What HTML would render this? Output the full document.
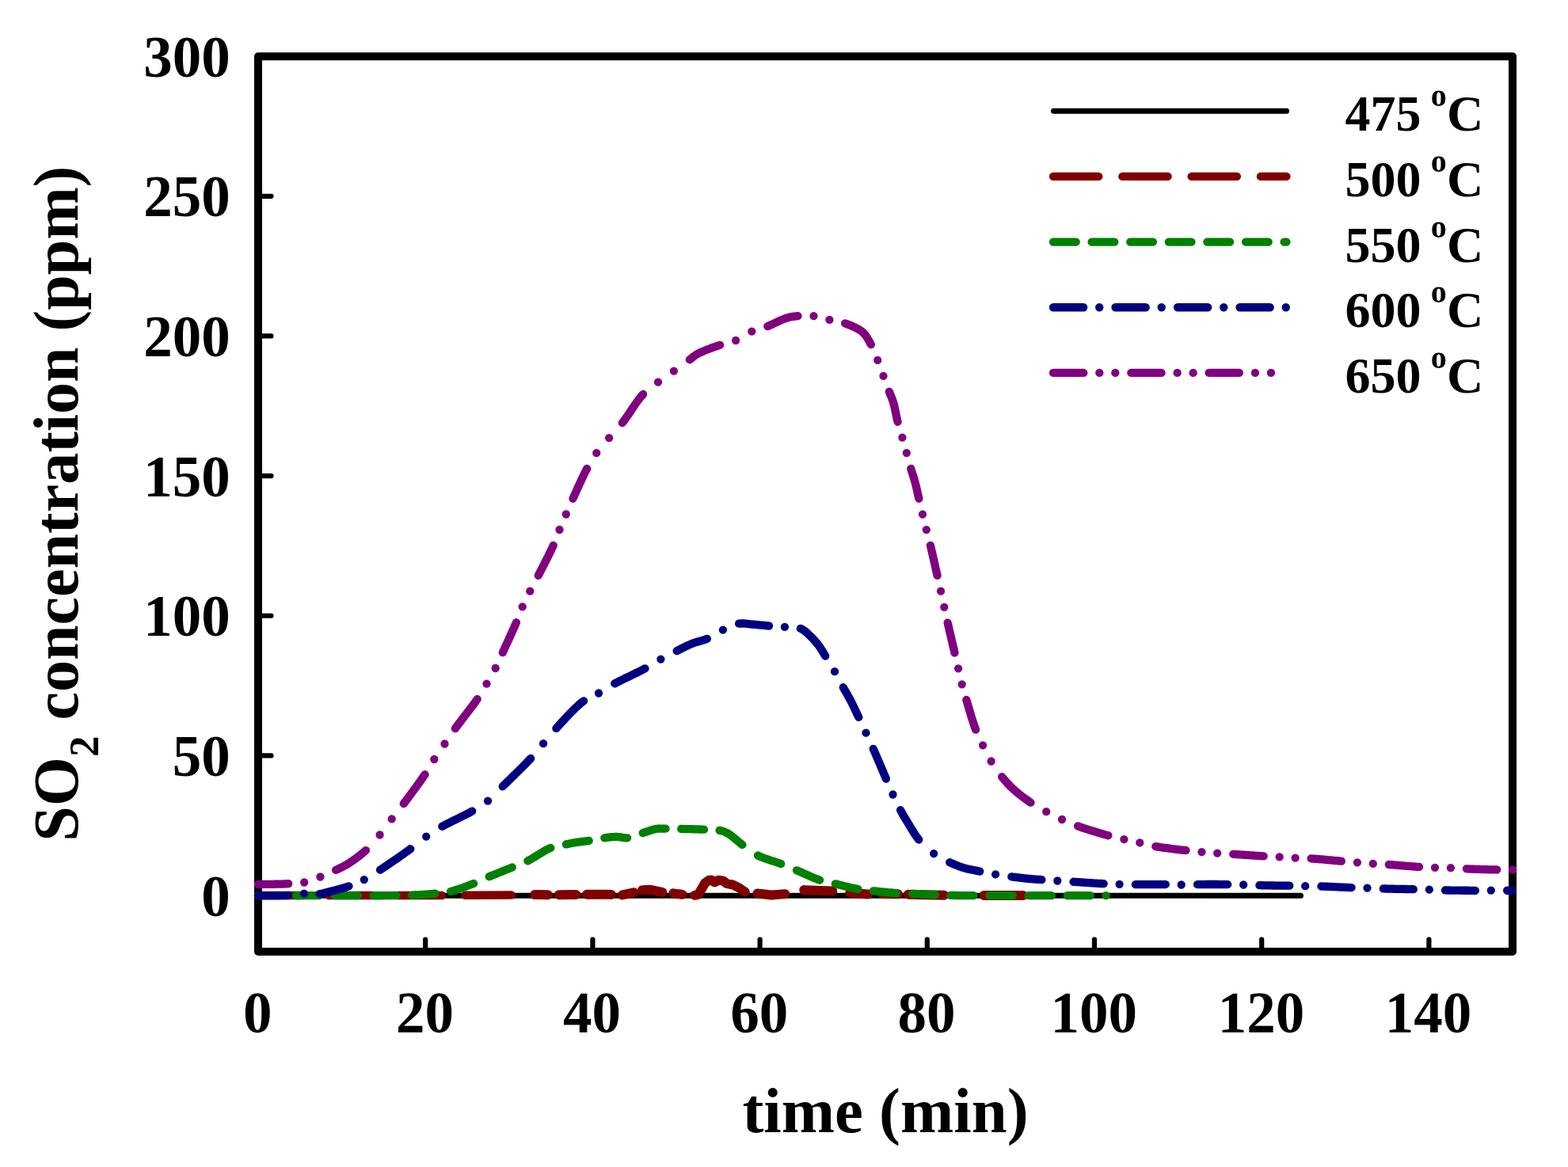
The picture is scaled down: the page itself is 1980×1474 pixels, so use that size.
<!DOCTYPE html><html><head><meta charset="utf-8"><title>SO2 concentration vs time</title>
<style>
html,body{margin:0;padding:0;background:#fff;}
svg{display:block;}
text{font-family:"Liberation Serif","Times New Roman",serif;font-weight:bold;fill:#000;}
</style></head><body>
<svg width="1980" height="1474" viewBox="0 0 1980 1474">
<rect width="1980" height="1474" fill="#fff"/>
<path d="M326.0,1131.05H342.5 M326.0,954.40H342.5 M326.0,777.75H342.5 M326.0,601.10H342.5 M326.0,424.45H342.5 M326.0,247.80H342.5 M537.20,1202.0V1186.5 M748.40,1202.0V1186.5 M959.60,1202.0V1186.5 M1170.80,1202.0V1186.5 M1382.00,1202.0V1186.5 M1593.20,1202.0V1186.5 M1804.40,1202.0V1186.5" stroke="#000" stroke-width="6.2" stroke-linecap="round" fill="none"/>
<rect x="326.0" y="71.2" width="1584.0" height="1130.8" fill="none" stroke="#000" stroke-width="10" stroke-linejoin="round"/>
<g fill="none" stroke-linecap="round" stroke-linejoin="round">
<line x1="326.0" y1="1131.2" x2="1642.5" y2="1131.2" stroke="#000" stroke-width="7"/>
<path d="M326.00,1131.00L383.90,1131.00 M415.20,1131.00L470.70,1131.00 M502.00,1131.00L558.00,1131.00 M587.30,1130.86L600.00,1130.80L645.70,1130.53" stroke="#800000" stroke-width="10.5"/>
<path d="M675.10,1130.08L680.00,1130.00L691.80,1130.24 M705.80,1130.28L720.00,1130.00L727.30,1129.94 M741.00,1129.83L745.00,1129.80L770.00,1129.80L771.80,1129.89 M785.80,1130.47L800.30,1127.30L800.50,1127.24 M811.00,1124.31L811.40,1124.20L820.50,1123.70L835.70,1126.80L836.40,1126.87 M850.20,1128.35L860.90,1129.80L861.60,1129.87 M877.10,1130.81L881.70,1129.80L886.80,1121.30L890.30,1115.20L895.40,1111.70L898.50,1111.50L902.40,1114.30L907.50,1111.70L913.50,1112.70L917.60,1116.00L925.70,1117.70L933.20,1121.30L940.80,1126.60 M956.50,1128.47L974.30,1130.50L991.20,1129.13 M1015.20,1124.10L1051.30,1125.42 M1073.20,1127.70L1096.20,1129.41 M1113.80,1128.89L1134.10,1129.36 M1146.90,1129.65L1192.30,1130.63 M1242.30,1131.00L1291.90,1131.00" stroke="#800000" stroke-width="12"/>
<path d="M326.00,1131.10L328.00,1131.10L330.01,1131.10L332.01,1131.10L334.03,1131.10L336.04,1131.10L338.05,1131.10L340.07,1131.10L342.09,1131.10L344.11,1131.10L346.13,1131.10L348.16,1131.10L350.18,1131.10L352.21,1131.10L354.20,1131.10 M373.90,1131.10L374.48,1131.10L376.50,1131.10L378.52,1131.10L380.53,1131.10L382.54,1131.10L384.55,1131.10L386.56,1131.10L388.56,1131.10L390.56,1131.10L392.56,1131.10L394.55,1131.10L396.54,1131.10L398.52,1131.10L400.50,1131.10L402.47,1131.10L403.00,1131.10 M422.70,1131.10L424.19,1131.10L426.31,1131.10L428.43,1131.11L430.57,1131.11L432.72,1131.12L434.87,1131.12L437.03,1131.13L439.19,1131.14L441.36,1131.14L443.52,1131.15L445.69,1131.16L447.85,1131.16L450.01,1131.17L451.80,1131.18 M471.50,1131.23L473.10,1131.23L475.10,1131.23L477.08,1131.23L479.03,1131.23L480.96,1131.23L482.86,1131.23L484.73,1131.22L486.57,1131.22L488.37,1131.21L490.15,1131.20L491.89,1131.19L493.59,1131.17L495.25,1131.16L496.88,1131.14L498.46,1131.12L500.00,1131.10L500.60,1131.09 M520.30,1130.64L521.04,1130.62L522.86,1130.55L524.66,1130.47L526.45,1130.39L528.23,1130.30L530.00,1130.20L532.31,1130.06L534.53,1129.92L536.67,1129.76L538.76,1129.60L540.82,1129.42L542.87,1129.24L544.91,1129.04L546.98,1128.83L549.10,1128.60L549.40,1128.57 M569.10,1125.90L570.91,1125.45L572.78,1124.94L574.71,1124.38L576.67,1123.77L578.67,1123.13L580.69,1122.45L582.72,1121.74L584.75,1121.02L586.77,1120.28L588.78,1119.53L590.76,1118.78L592.70,1118.04L594.59,1117.31L596.43,1116.59L598.08,1115.95 M617.70,1107.30L619.48,1106.55L621.33,1105.79L623.23,1105.00L625.18,1104.21L627.17,1103.40L629.19,1102.59L631.22,1101.78L633.26,1100.96L635.29,1100.15L637.31,1099.34L639.30,1098.54L641.25,1097.76L643.16,1096.98L645.02,1096.23L646.74,1095.52 M666.40,1087.30L668.09,1086.44L669.83,1085.49L671.61,1084.48L673.42,1083.40L675.27,1082.28L677.14,1081.12L679.02,1079.95L680.91,1078.78L682.80,1077.62L684.69,1076.48L686.56,1075.37L688.42,1074.32L690.24,1073.33L692.04,1072.43L693.79,1071.61L695.28,1070.99 M714.83,1066.43L715.00,1066.40L717.31,1065.92L719.50,1065.47L721.62,1065.05L723.72,1064.65L725.86,1064.27L728.10,1063.90L730.03,1063.61L731.99,1063.35L733.99,1063.11L736.01,1062.87L738.05,1062.63L740.12,1062.38L742.20,1062.11L743.71,1061.89 M763.27,1058.32L763.40,1058.30L765.72,1057.99L768.00,1057.69L770.25,1057.43L772.48,1057.20L774.67,1057.03L776.85,1056.93L779.00,1056.90L781.27,1057.05L783.46,1057.39L785.62,1057.80L787.80,1058.17L790.05,1058.37L792.15,1058.31 M811.70,1052.07L812.20,1051.90L814.32,1051.21L816.42,1050.50L818.50,1049.79L820.55,1049.09L822.58,1048.44L824.58,1047.86L826.56,1047.37L828.50,1047.00L830.66,1046.73L832.72,1046.61L834.75,1046.59L836.81,1046.63L838.94,1046.68L840.58,1046.69 M860.13,1046.98L861.00,1047.00L862.88,1047.04L864.82,1047.07L866.81,1047.11L868.85,1047.14L870.92,1047.18L873.02,1047.22L875.12,1047.26L877.23,1047.31L879.32,1047.36L881.40,1047.41L883.45,1047.48L885.45,1047.54L887.41,1047.62L889.01,1047.69 M908.57,1048.87L909.80,1049.10L912.33,1049.72L914.51,1050.43L916.63,1051.35L919.00,1052.60L920.39,1053.44L921.85,1054.44L923.37,1055.55L924.93,1056.77L926.54,1058.07L928.17,1059.43L929.83,1060.82L931.50,1062.22L933.17,1063.62L934.83,1064.97L936.48,1066.28L937.45,1067.01 M957.00,1080.50L958.76,1081.36L960.60,1082.19L962.53,1082.99L964.51,1083.75L966.54,1084.50L968.61,1085.22L970.70,1085.92L972.81,1086.61L974.90,1087.29L976.99,1087.96L979.04,1088.62L981.05,1089.28L983.01,1089.95L984.89,1090.62L986.22,1091.12 M1006.00,1099.30L1007.71,1100.02L1009.48,1100.79L1011.31,1101.59L1013.19,1102.43L1015.10,1103.28L1017.05,1104.15L1019.01,1105.03L1020.98,1105.90L1022.96,1106.77L1024.92,1107.62L1026.87,1108.44L1028.79,1109.23L1030.67,1109.98L1032.51,1110.68L1034.29,1111.32L1035.10,1111.60 M1054.80,1116.30L1056.60,1116.73L1058.47,1117.18L1060.42,1117.66L1062.42,1118.15L1064.46,1118.66L1066.53,1119.18L1068.61,1119.69L1070.71,1120.20L1072.79,1120.71L1074.86,1121.19L1076.90,1121.66L1078.90,1122.10L1080.83,1122.50L1082.71,1122.87L1083.42,1123.00 M1102.80,1125.30L1104.61,1125.49L1106.50,1125.68L1108.47,1125.89L1110.49,1126.09L1112.56,1126.30L1114.66,1126.51L1116.79,1126.72L1118.92,1126.93L1121.05,1127.13L1123.16,1127.32L1125.24,1127.50L1127.28,1127.67L1129.26,1127.83L1131.17,1127.98L1132.20,1128.05 M1152.10,1128.80L1154.04,1128.88L1156.06,1128.97L1158.16,1129.07L1160.32,1129.17L1162.52,1129.28L1164.74,1129.39L1166.98,1129.50L1169.22,1129.61L1171.45,1129.72L1173.64,1129.82L1175.79,1129.93L1177.87,1130.02L1179.88,1130.12L1180.78,1130.16 M1200.20,1130.90L1201.81,1130.93L1203.50,1130.96L1205.27,1130.99L1207.10,1131.01L1209.00,1131.04L1210.95,1131.06L1212.96,1131.07L1215.02,1131.09L1217.12,1131.10L1219.26,1131.12L1221.42,1131.13L1223.62,1131.14L1225.83,1131.14L1228.06,1131.15L1229.57,1131.15 M1249.45,1131.20L1250.00,1131.20L1252.05,1131.21L1254.12,1131.21L1256.21,1131.21L1258.31,1131.22L1260.41,1131.22L1262.53,1131.22L1264.65,1131.22L1266.78,1131.22L1268.90,1131.22L1271.02,1131.22L1273.13,1131.22L1275.23,1131.22L1277.32,1131.22L1278.82,1131.22 M1298.70,1131.20L1301.10,1131.20L1303.44,1131.20L1305.72,1131.20L1307.95,1131.20L1310.13,1131.20L1312.26,1131.20L1314.36,1131.20L1316.43,1131.20L1318.48,1131.20L1320.50,1131.20L1322.51,1131.20L1324.51,1131.20L1326.50,1131.20L1327.92,1131.20 M1347.70,1131.20L1349.72,1131.20L1351.79,1131.20L1353.92,1131.20L1356.07,1131.20L1358.25,1131.20L1360.45,1131.20L1362.65,1131.20L1364.85,1131.20L1367.03,1131.20L1369.18,1131.20L1371.31,1131.20L1373.38,1131.20L1375.40,1131.20L1376.80,1131.20 M1396.50,1131.20L1396.60,1131.20" stroke="#008000" stroke-width="10.3"/>
<path d="M326.00,1131.10L328.11,1131.10L330.22,1131.10L332.33,1131.10L334.44,1131.11L336.56,1131.11L338.67,1131.11L340.78,1131.11L342.89,1131.10L345.00,1131.10L347.11,1131.11L349.21,1131.13L351.32,1131.16L353.42,1131.18L355.53,1131.20L357.64,1131.20L359.75,1131.17L361.87,1131.11L364.00,1131.00 M384.00,1128.60l0.01,0 M403.60,1129.12L405.21,1128.86L407.16,1128.47L409.10,1128.02L411.05,1127.53L413.01,1127.00L414.99,1126.46L416.98,1125.92L419.00,1125.40L421.00,1124.90L423.02,1124.39L425.07,1123.88L427.13,1123.35L429.20,1122.81L431.27,1122.24L433.35,1121.66L435.41,1121.04L437.47,1120.39L439.50,1119.70L440.49,1119.35 M459.80,1111.10l0.01,0 M480.07,1098.69L481.07,1098.04L482.61,1097.02L484.21,1095.96L485.87,1094.86L487.58,1093.71L489.33,1092.53L491.11,1091.32L492.93,1090.09L494.76,1088.83L496.61,1087.56L498.47,1086.28L500.34,1084.99L502.19,1083.70L504.04,1082.41L505.87,1081.13L507.67,1079.86L509.44,1078.60L511.17,1077.37L512.85,1076.17L514.48,1074.99L516.06,1073.85L517.57,1072.75L518.23,1072.27 M538.20,1056.60l0.01,0 M558.32,1043.88L558.90,1043.56L560.49,1042.69L562.14,1041.81L563.87,1040.91L565.65,1039.99L567.49,1039.07L569.36,1038.13L571.27,1037.19L573.20,1036.24L575.15,1035.28L577.11,1034.33L579.06,1033.37L581.01,1032.41L582.94,1031.46L584.85,1030.51L586.72,1029.57L588.56,1028.64L590.34,1027.72L592.06,1026.82L593.72,1025.93L595.30,1025.05L596.18,1024.55 M616.00,1011.70l0.01,0 M634.70,993.31L635.34,992.68L636.64,991.40L637.99,990.07L639.39,988.70L640.84,987.29L642.32,985.84L643.84,984.35L645.39,982.85L646.95,981.32L648.54,979.77L650.13,978.21L651.73,976.64L653.33,975.07L654.92,973.50L656.50,971.93L658.07,970.38L659.61,968.84L661.13,967.31L662.61,965.82L664.06,964.35L665.45,962.91L666.80,961.52L668.10,960.16L669.33,958.86L670.18,957.95 M686.10,939.20l0.01,0 M702.39,919.96L703.06,919.23L704.27,917.89L705.54,916.50L706.85,915.05L708.20,913.57L709.58,912.04L711.00,910.48L712.45,908.90L713.92,907.31L715.42,905.70L716.92,904.09L718.44,902.49L719.97,900.90L721.50,899.32L723.02,897.77L724.55,896.25L726.06,894.78L727.55,893.34L729.03,891.96L730.49,890.64L731.92,889.39L733.32,888.21L734.68,887.11L736.00,886.10L737.04,885.36 M756.00,875.50l0.01,0 M776.27,863.39L777.27,862.85L778.91,861.99L780.64,861.10L782.42,860.19L784.27,859.27L786.16,858.34L788.09,857.40L790.05,856.44L792.03,855.49L794.03,854.53L796.03,853.56L798.03,852.60L800.01,851.64L801.98,850.69L803.91,849.75L805.80,848.82L807.65,847.90L809.44,846.99L811.17,846.11L812.83,845.24L814.40,844.40L814.43,844.39 M834.40,832.60l0.01,0 M854.70,822.05L856.16,821.31L858.13,820.32L860.10,819.33L862.06,818.34L864.03,817.36L866.00,816.40L867.97,815.47L869.95,814.57L871.92,813.71L873.90,812.90L876.01,812.12L878.12,811.43L880.23,810.81L882.35,810.22L884.47,809.64L886.58,809.03L888.70,808.38L890.80,807.64L892.90,806.80 M912.90,795.70l0.01,0 M933.07,787.70L934.51,787.52L936.70,787.44L938.88,787.49L941.07,787.66L943.26,787.89L945.47,788.16L947.72,788.40L950.00,788.60L952.03,788.75L954.10,788.92L956.19,789.11L958.30,789.31L960.42,789.51L962.55,789.72L964.68,789.93L966.81,790.13L968.91,790.32L971.00,790.50L971.03,790.50 M990.90,791.90l0.01,0 M1010.85,793.85L1011.00,793.90L1013.02,794.86L1014.90,796.02L1016.67,797.34L1018.35,798.78L1019.98,800.30L1021.59,801.86L1023.20,803.40L1024.65,804.80L1026.08,806.25L1027.48,807.74L1028.86,809.27L1030.20,810.83L1031.51,812.41L1032.78,814.00L1034.00,815.60L1035.28,817.36L1036.47,819.12L1037.60,820.90L1038.71,822.72L1039.83,824.58L1040.98,826.50L1042.20,828.50L1042.23,828.54 M1054.00,848.20l0.01,0 M1064.79,868.24L1065.73,869.92L1066.84,871.86L1067.93,873.75L1069.02,875.63L1070.10,877.51L1071.19,879.43L1072.28,881.41L1073.40,883.50L1074.29,885.22L1075.20,887.00L1076.11,888.83L1077.03,890.69L1077.96,892.59L1078.88,894.51L1079.81,896.44L1080.73,898.37L1081.64,900.29L1082.54,902.19L1083.43,904.06L1084.30,905.90L1084.33,905.95 M1093.50,925.70l0.01,0 M1102.72,945.82L1103.12,946.73L1103.87,948.43L1104.65,950.22L1105.45,952.07L1106.27,953.98L1107.11,955.93L1107.97,957.92L1108.83,959.94L1109.70,961.98L1110.58,964.03L1111.45,966.09L1112.32,968.13L1113.18,970.16L1114.03,972.16L1114.87,974.13L1115.68,976.05L1116.48,977.91L1117.25,979.72L1117.99,981.45L1118.70,983.10L1118.95,983.68 M1127.50,1003.50l0.01,0 M1137.09,1023.28L1138.01,1024.98L1139.02,1026.81L1140.03,1028.60L1141.04,1030.36L1142.07,1032.12L1143.13,1033.88L1144.21,1035.68L1145.33,1037.51L1146.50,1039.40L1147.48,1041.00L1148.47,1042.64L1149.48,1044.33L1150.50,1046.05L1151.55,1047.78L1152.62,1049.53L1153.71,1051.28L1154.82,1053.02L1155.96,1054.74L1157.13,1056.42L1158.32,1058.07L1159.54,1059.66L1160.22,1060.49 M1179.10,1078.10l0.01,0 M1199.27,1089.22L1200.70,1089.89L1202.56,1090.75L1204.40,1091.57L1206.23,1092.35L1208.07,1093.10L1209.92,1093.81L1211.80,1094.50L1213.72,1095.16L1215.70,1095.80L1217.70,1096.39L1219.75,1096.93L1221.83,1097.44L1223.95,1097.92L1226.10,1098.38L1228.25,1098.81L1230.41,1099.24L1232.56,1099.66L1234.69,1100.08L1236.80,1100.50L1237.23,1100.59 M1257.10,1104.30l0.01,0 M1277.32,1107.37L1278.85,1107.57L1280.97,1107.85L1283.12,1108.12L1285.30,1108.39L1287.49,1108.65L1289.67,1108.90L1291.84,1109.15L1293.97,1109.39L1296.05,1109.61L1298.07,1109.81L1300.00,1110.00L1302.32,1110.21L1304.51,1110.38L1306.62,1110.53L1308.70,1110.67L1310.79,1110.81L1312.94,1110.95L1315.20,1111.10L1315.38,1111.11 M1335.30,1112.50l0.01,0 M1355.55,1113.75L1356.47,1113.81L1358.34,1113.93L1360.30,1114.06L1362.35,1114.20L1364.46,1114.34L1366.62,1114.49L1368.83,1114.64L1371.06,1114.79L1373.32,1114.94L1375.58,1115.09L1377.83,1115.24L1380.07,1115.38L1382.28,1115.52L1384.44,1115.66L1386.55,1115.78L1388.59,1115.90L1390.56,1116.01L1392.43,1116.11L1393.65,1116.17 M1413.60,1116.80l0.01,0 M1433.80,1117.11L1434.56,1117.11L1436.43,1117.12L1438.39,1117.12L1440.43,1117.12L1442.54,1117.12L1444.71,1117.11L1446.91,1117.11L1449.15,1117.10L1451.41,1117.09L1453.67,1117.09L1455.93,1117.08L1458.16,1117.07L1460.37,1117.07L1462.54,1117.06L1464.65,1117.06L1466.69,1117.07L1468.66,1117.07L1470.53,1117.08L1471.80,1117.10 M1491.70,1117.50l0.01,0 M1512.00,1117.09L1512.76,1117.08L1514.63,1117.07L1516.58,1117.06L1518.62,1117.04L1520.72,1117.04L1522.87,1117.03L1525.07,1117.02L1527.30,1117.02L1529.54,1117.02L1531.80,1117.02L1534.04,1117.02L1536.27,1117.02L1538.48,1117.03L1540.64,1117.04L1542.74,1117.04L1544.78,1117.06L1546.75,1117.07L1548.63,1117.08L1550.20,1117.10 M1570.20,1117.50l0.01,0 M1590.37,1118.14L1591.36,1118.17L1593.56,1118.24L1595.73,1118.30L1597.88,1118.35L1600.00,1118.40L1602.06,1118.44L1604.12,1118.47L1606.20,1118.50L1608.28,1118.52L1610.36,1118.54L1612.44,1118.55L1614.51,1118.57L1616.56,1118.58L1618.59,1118.59L1620.60,1118.61L1622.58,1118.62L1624.52,1118.65L1626.43,1118.67L1628.30,1118.70L1628.33,1118.70 M1648.20,1119.20l0.01,0 M1668.45,1119.52L1669.65,1119.55L1671.50,1119.62L1673.43,1119.69L1675.44,1119.76L1677.51,1119.85L1679.63,1119.94L1681.79,1120.03L1683.98,1120.13L1686.19,1120.23L1688.40,1120.33L1690.61,1120.43L1692.80,1120.53L1694.96,1120.63L1697.08,1120.72L1699.15,1120.81L1701.16,1120.89L1703.10,1120.97L1704.95,1121.04L1706.55,1121.09 M1726.50,1121.60l0.01,0 M1746.75,1122.41L1748.05,1122.45L1749.90,1122.50L1751.83,1122.55L1753.83,1122.60L1755.89,1122.64L1758.01,1122.69L1760.16,1122.73L1762.35,1122.78L1764.55,1122.82L1766.75,1122.86L1768.95,1122.90L1771.14,1122.94L1773.29,1122.98L1775.41,1123.02L1777.47,1123.06L1779.47,1123.09L1781.40,1123.13L1783.25,1123.17L1784.85,1123.20 M1804.80,1123.60l0.01,0 M1824.97,1124.41L1826.35,1124.44L1828.21,1124.48L1830.14,1124.52L1832.15,1124.55L1834.23,1124.59L1836.35,1124.62L1838.51,1124.64L1840.71,1124.67L1842.92,1124.69L1845.13,1124.71L1847.34,1124.73L1849.53,1124.75L1851.69,1124.76L1853.81,1124.77L1855.88,1124.78L1857.88,1124.79L1859.81,1124.80L1861.66,1124.80L1862.93,1124.80 M1882.80,1124.60l0.01,0 M1903.10,1124.74L1903.63,1124.74L1905.77,1124.76L1907.90,1124.78L1910.00,1124.80" stroke="#000080" stroke-width="10.3"/>
<path d="M326.00,1116.90L328.11,1116.89L330.22,1116.89L332.33,1116.89L334.44,1116.88L336.56,1116.88L338.67,1116.87L340.78,1116.86L342.89,1116.83L345.00,1116.80L347.11,1116.76L349.21,1116.72L351.31,1116.68L353.41,1116.62L355.52,1116.56L357.63,1116.49L359.74,1116.41L361.86,1116.31L364.00,1116.20L364.20,1116.19 M384.20,1114.50l0.01,0 M404.40,1107.50l0.01,0 M424.14,1098.93L425.97,1098.06L427.90,1097.13L429.80,1096.21L431.68,1095.28L433.56,1094.32L435.44,1093.32L437.33,1092.26L439.25,1091.12L441.20,1089.90L442.75,1088.89L444.33,1087.82L445.94,1086.71L447.57,1085.55L449.21,1084.36L450.86,1083.13L452.51,1081.88L454.15,1080.60L455.77,1079.30L457.37,1077.99L458.94,1076.67L460.48,1075.34L461.94,1074.04 M479.60,1054.50l0.01,0 M494.70,1034.30l0.01,0 M509.76,1015.07L509.93,1014.84L511.01,1013.41L512.14,1011.92L513.30,1010.37L514.50,1008.78L515.72,1007.15L516.98,1005.47L518.25,1003.77L519.53,1002.05L520.83,1000.30L522.12,998.55L523.42,996.79L524.71,995.03L525.99,993.28L527.26,991.53L528.50,989.81L529.72,988.12L530.91,986.45L532.06,984.82L533.17,983.24L534.23,981.70L535.24,980.22L536.20,978.80L536.57,978.23 M548.30,959.00l0.01,0 M561.50,939.50l0.01,0 M574.86,920.14L575.61,919.10L576.69,917.64L577.82,916.13L578.99,914.56L580.21,912.95L581.47,911.30L582.76,909.62L584.07,907.91L585.40,906.18L586.75,904.43L588.10,902.68L589.45,900.92L590.80,899.16L592.14,897.41L593.46,895.68L594.76,893.96L596.03,892.27L597.26,890.61L598.45,888.99L599.60,887.42L600.69,885.89L601.73,884.41L602.66,883.06 M614.50,863.70l0.01,0 M625.70,844.00l0.01,0 M634.82,824.18L634.90,824.00L635.65,822.36L636.43,820.64L637.26,818.84L638.11,816.98L638.98,815.07L639.88,813.11L640.80,811.11L641.72,809.09L642.65,807.05L643.59,805.00L644.52,802.95L645.44,800.91L646.35,798.88L647.25,796.89L648.12,794.93L648.97,793.01L649.78,791.16L650.56,789.36L651.30,787.64L651.91,786.22 M659.70,766.40l0.01,0 M669.30,746.70l0.01,0 M679.78,726.85L680.50,725.44L681.35,723.80L682.23,722.09L683.14,720.32L684.08,718.50L685.04,716.64L686.02,714.73L687.01,712.80L688.01,710.85L689.01,708.88L690.01,706.91L691.00,704.94L691.98,702.98L692.94,701.05L693.88,699.14L694.80,697.26L695.68,695.43L696.53,693.65L697.33,691.93L698.09,690.28L698.73,688.85 M706.50,669.00l0.01,0 M714.80,649.50l0.01,0 M723.47,629.76L723.50,629.70L724.24,628.06L725.02,626.33L725.83,624.53L726.67,622.66L727.53,620.74L728.41,618.77L729.32,616.77L730.24,614.73L731.17,612.68L732.11,610.63L733.05,608.57L734.00,606.52L734.95,604.50L735.89,602.50L736.83,600.55L737.76,598.64L738.67,596.79L739.57,595.02L740.45,593.31L741.17,591.94 M753.20,572.20l0.01,0 M769.10,553.10l0.01,0 M785.81,534.19L786.89,532.81L788.00,531.34L789.12,529.80L790.26,528.19L791.42,526.54L792.58,524.84L793.76,523.10L794.94,521.33L796.14,519.55L797.34,517.75L798.55,515.95L799.76,514.15L800.97,512.37L802.19,510.61L803.40,508.88L804.61,507.19L805.83,505.54L807.03,503.95L808.24,502.42L809.43,500.96L810.62,499.59L811.80,498.30L812.12,497.97 M831.00,482.70l0.01,0 M850.90,468.60l0.01,0 M870.87,454.26L871.50,453.80L873.38,452.34L874.96,451.03L876.46,449.79L878.13,448.57L880.20,447.30L881.60,446.55L883.14,445.78L884.83,445.00L886.62,444.21L888.51,443.40L890.48,442.60L892.50,441.80L894.57,441.00L896.65,440.22L898.73,439.45L900.80,438.70L902.83,437.98L904.80,437.28L906.70,436.62L908.50,436.00L909.13,435.80 M929.10,430.00l0.01,0 M949.30,418.70l0.01,0 M969.27,412.11L969.30,412.10L971.10,411.38L972.94,410.60L974.81,409.76L976.71,408.88L978.62,407.97L980.54,407.06L982.45,406.15L984.34,405.27L986.20,404.42L988.03,403.63L989.81,402.90L991.54,402.25L993.20,401.70L995.35,401.08L997.38,400.57L999.32,400.16L1001.23,399.82L1003.17,399.54L1005.17,399.31L1007.30,399.10L1007.53,399.08 M1027.50,399.10l0.01,0 M1047.40,403.90l0.01,0 M1067.14,408.48L1067.20,408.50L1069.04,409.17L1070.95,409.87L1072.88,410.61L1074.84,411.39L1076.80,412.21L1078.74,413.08L1080.65,413.99L1082.50,414.95L1084.28,415.96L1085.97,417.02L1087.55,418.13L1089.00,419.30L1090.53,420.73L1091.91,422.25L1093.18,423.85L1094.34,425.51L1095.44,427.22L1096.47,428.99L1097.48,430.80L1098.48,432.64L1099.50,434.50L1099.85,435.16 M1108.20,454.90l0.01,0 M1115.50,474.90l0.01,0 M1122.83,494.75L1123.52,496.50L1124.32,498.48L1125.12,500.39L1125.89,502.29L1126.65,504.24L1127.39,506.29L1128.10,508.50L1128.60,510.27L1129.08,512.12L1129.54,514.06L1129.99,516.05L1130.42,518.10L1130.84,520.17L1131.26,522.26L1131.69,524.35L1132.12,526.42L1132.56,528.47L1133.02,530.46L1133.50,532.40L1133.59,532.75 M1139.40,552.60l0.01,0 M1144.80,572.10l0.01,0 M1150.24,591.90L1150.30,592.10L1150.93,594.20L1151.56,596.23L1152.20,598.21L1152.84,600.18L1153.47,602.15L1154.09,604.14L1154.70,606.18L1155.30,608.30L1155.82,610.26L1156.33,612.27L1156.83,614.31L1157.32,616.39L1157.80,618.48L1158.28,620.59L1158.76,622.71L1159.24,624.82L1159.72,626.92L1160.20,629.00L1160.39,629.80 M1165.00,649.60l0.01,0 M1169.80,669.10l0.01,0 M1174.88,688.92L1175.22,690.33L1175.65,692.17L1176.10,694.08L1176.57,696.07L1177.04,698.13L1177.53,700.23L1178.02,702.38L1178.51,704.55L1179.01,706.74L1179.51,708.94L1180.00,711.13L1180.49,713.30L1180.98,715.45L1181.45,717.55L1181.91,719.61L1182.36,721.60L1182.79,723.52L1183.21,725.36L1183.55,726.88 M1188.00,746.70l0.01,0 M1192.30,766.80l0.01,0 M1196.65,786.60L1196.70,786.80L1197.11,788.59L1197.54,790.47L1197.99,792.43L1198.46,794.45L1198.94,796.54L1199.44,798.67L1199.94,800.83L1200.45,803.02L1200.97,805.22L1201.48,807.42L1202.00,809.61L1202.51,811.78L1203.01,813.91L1203.50,816.00L1203.98,818.04L1204.44,820.01L1204.88,821.90L1205.30,823.70L1205.49,824.50 M1210.10,844.30l0.01,0 M1214.70,864.30l0.01,0 M1220.34,883.97L1220.50,884.50L1221.01,886.20L1221.53,887.98L1222.07,889.84L1222.63,891.76L1223.21,893.73L1223.80,895.75L1224.40,897.80L1225.01,899.88L1225.63,901.97L1226.26,904.06L1226.90,906.14L1227.53,908.21L1228.18,910.26L1228.82,912.26L1229.46,914.22L1230.10,916.13L1230.74,917.96L1231.37,919.73L1232.00,921.40L1232.09,921.63 M1241.10,941.30l0.01,0 M1251.60,961.50l0.01,0 M1265.14,981.17L1266.29,982.58L1267.58,984.14L1268.88,985.67L1270.20,987.17L1271.53,988.66L1272.89,990.12L1274.28,991.58L1275.70,993.02L1277.16,994.45L1278.66,995.88L1280.20,997.30L1281.69,998.63L1283.24,999.97L1284.83,1001.30L1286.45,1002.63L1288.11,1003.95L1289.80,1005.26L1291.50,1006.55L1293.22,1007.83L1294.93,1009.08L1296.65,1010.31L1298.35,1011.51L1300.04,1012.67L1301.53,1013.68 M1321.20,1025.20l0.01,0 M1341.00,1035.00l0.01,0 M1361.03,1043.42L1362.34,1043.89L1364.08,1044.50L1365.88,1045.12L1367.76,1045.76L1369.70,1046.40L1371.69,1047.04L1373.71,1047.70L1375.77,1048.35L1377.84,1049.00L1379.93,1049.64L1382.02,1050.28L1384.10,1050.91L1386.16,1051.53L1388.20,1052.13L1390.20,1052.72L1392.15,1053.28L1394.05,1053.83L1395.88,1054.35L1397.63,1054.84L1399.30,1055.30L1399.37,1055.32 M1419.40,1060.10l0.01,0 M1439.30,1064.40l0.01,0 M1459.27,1069.12L1460.36,1069.31L1462.23,1069.63L1464.18,1069.94L1466.22,1070.24L1468.33,1070.55L1470.49,1070.85L1472.70,1071.15L1474.94,1071.44L1477.19,1071.73L1479.46,1072.01L1481.71,1072.28L1483.95,1072.55L1486.16,1072.81L1488.33,1073.07L1490.44,1073.31L1492.49,1073.55L1494.46,1073.78L1496.33,1073.99L1497.53,1074.13 M1517.50,1076.20l0.01,0 M1537.20,1077.60l0.01,0 M1557.25,1078.83L1558.56,1078.91L1560.42,1079.04L1562.36,1079.17L1564.39,1079.31L1566.47,1079.45L1568.61,1079.60L1570.79,1079.75L1573.00,1079.90L1575.22,1080.05L1577.45,1080.21L1579.68,1080.36L1581.89,1080.51L1584.07,1080.66L1586.21,1080.80L1588.30,1080.94L1590.32,1081.07L1592.27,1081.19L1594.14,1081.30L1595.65,1081.39 M1615.70,1082.30l0.01,0 M1635.60,1083.60l0.01,0 M1655.60,1084.39L1655.80,1084.40L1657.53,1084.52L1659.35,1084.65L1661.25,1084.79L1663.21,1084.95L1665.23,1085.12L1667.30,1085.30L1669.40,1085.48L1671.53,1085.68L1673.68,1085.87L1675.83,1086.07L1677.97,1086.27L1680.10,1086.47L1682.20,1086.67L1684.27,1086.86L1686.29,1087.04L1688.25,1087.22L1690.15,1087.39L1691.97,1087.55L1693.70,1087.70L1693.90,1087.72 M1713.90,1089.30l0.01,0 M1733.80,1090.90l0.01,0 M1753.77,1092.02L1755.25,1092.12L1757.10,1092.26L1759.03,1092.40L1761.04,1092.56L1763.11,1092.72L1765.23,1092.90L1767.40,1093.07L1769.59,1093.26L1771.79,1093.44L1774.01,1093.62L1776.21,1093.80L1778.40,1093.98L1780.56,1094.16L1782.69,1094.32L1784.76,1094.48L1786.76,1094.63L1788.70,1094.77L1790.55,1094.89L1792.03,1094.98 M1812.00,1095.80l0.01,0 M1831.90,1096.20l0.01,0 M1851.90,1097.39L1852.10,1097.40L1853.83,1097.47L1855.65,1097.55L1857.55,1097.62L1859.51,1097.70L1861.54,1097.77L1863.60,1097.84L1865.71,1097.91L1867.84,1097.97L1869.98,1098.04L1872.14,1098.10L1874.28,1098.16L1876.42,1098.21L1878.53,1098.27L1880.60,1098.32L1882.63,1098.36L1884.61,1098.40L1886.52,1098.44L1888.35,1098.47L1890.10,1098.50L1890.20,1098.50 M1910.20,1098.50l0.01,0" stroke="#800080" stroke-width="10.3"/>
</g>
<text x="290.8" y="1156.5" font-size="73" text-anchor="end">0</text>
<text x="290.8" y="979.8" font-size="73" text-anchor="end">50</text>
<text x="290.8" y="803.1" font-size="73" text-anchor="end">100</text>
<text x="290.8" y="626.5" font-size="73" text-anchor="end">150</text>
<text x="290.8" y="449.8" font-size="73" text-anchor="end">200</text>
<text x="290.8" y="273.2" font-size="73" text-anchor="end">250</text>
<text x="290.8" y="96.6" font-size="73" text-anchor="end">300</text>
<text x="325.2" y="1303.6" font-size="73" text-anchor="middle">0</text>
<text x="536.4" y="1303.6" font-size="73" text-anchor="middle">20</text>
<text x="747.6" y="1303.6" font-size="73" text-anchor="middle">40</text>
<text x="958.8" y="1303.6" font-size="73" text-anchor="middle">60</text>
<text x="1170.0" y="1303.6" font-size="73" text-anchor="middle">80</text>
<text x="1381.2" y="1303.6" font-size="73" text-anchor="middle">100</text>
<text x="1592.4" y="1303.6" font-size="73" text-anchor="middle">120</text>
<text x="1803.6" y="1303.6" font-size="73" text-anchor="middle">140</text>
<text x="1118" y="1430.3" font-size="80.8" text-anchor="middle">time (min)</text>
<text transform="translate(98.4,636.1) rotate(-90)" font-size="80" text-anchor="middle">SO<tspan font-size="53" dy="25.5">2</tspan><tspan dy="-25.5"> concentration (ppm)</tspan></text>
<line x1="1330.5" y1="140.3" x2="1624.5" y2="140.3" stroke="#000" stroke-width="7" stroke-linecap="round"/>
<text y="165.2" font-size="64"><tspan x="1698.4">475</tspan><tspan x="1806.7" font-size="40" dy="-31">o</tspan><tspan x="1827" dy="31">C</tspan></text>
<line x1="1330" y1="222.95" x2="1624.5" y2="222.95" stroke="#800000" stroke-width="10.3" stroke-linecap="round" stroke-dasharray="57.3 30"/>
<text y="247.8" font-size="64"><tspan x="1698.4">500</tspan><tspan x="1806.7" font-size="40" dy="-31">o</tspan><tspan x="1827" dy="31">C</tspan></text>
<line x1="1330" y1="305.6" x2="1624.5" y2="305.6" stroke="#008000" stroke-width="10.3" stroke-linecap="round" stroke-dasharray="28.7 19.9"/>
<text y="330.5" font-size="64"><tspan x="1698.4">550</tspan><tspan x="1806.7" font-size="40" dy="-31">o</tspan><tspan x="1827" dy="31">C</tspan></text>
<line x1="1330" y1="388.25" x2="1624.5" y2="388.25" stroke="#000080" stroke-width="10.3" stroke-linecap="round" stroke-dasharray="38.2 20 0.1 20.2"/>
<text y="413.1" font-size="64"><tspan x="1698.4">600</tspan><tspan x="1806.7" font-size="40" dy="-31">o</tspan><tspan x="1827" dy="31">C</tspan></text>
<line x1="1330" y1="470.9" x2="1624.5" y2="470.9" stroke="#800080" stroke-width="10.3" stroke-linecap="round" stroke-dasharray="38.3 20 0.1 19.9 0.1 19.9"/>
<text y="495.8" font-size="64"><tspan x="1698.4">650</tspan><tspan x="1806.7" font-size="40" dy="-31">o</tspan><tspan x="1827" dy="31">C</tspan></text>
</svg></body></html>
